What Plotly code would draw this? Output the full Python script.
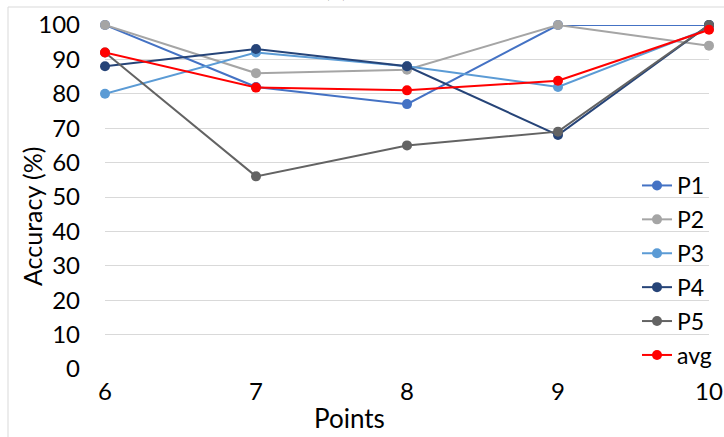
import plotly.graph_objects as go

# Number of points used and per-participant accuracy (%)
points = [6, 7, 8, 9, 10]
p1 = [100, 82, 77, 100, 100]
p2 = [100, 86, 87, 100, 94]
p3 = [80, 92, 88, 82, 99]
p4 = [88, 93, 88, 68, 100]
p5 = [92, 56, 65, 69, 100]
avg = [92, 81.8, 81, 83.8, 98.6]

series_names = ["P1", "P2", "P3", "P4", "P5", "avg"]
series_values = [p1, p2, p3, p4, p5, avg]
series_colors = ["#4472C4", "#A5A5A5", "#5B9BD5", "#264478", "#636363", "#FF0000"]

y_ticks = [0, 10, 20, 30, 40, 50, 60, 70, 80, 90, 100]

FONT = "Lato"
W, H = 724, 437
L, R, T, B = 105, 15, 25, 68
plot_w = W - L - R
plot_h = H - T - B

fig = go.Figure()
for i, (name, vals, col) in enumerate(zip(series_names, series_values, series_colors)):
    fig.add_trace(go.Scatter(
        x=points, y=vals, name=name, mode="lines+markers",
        line=dict(color=col, width=2),
        marker=dict(color=col, size=10),
        cliponaxis=False, legendgroup=f"g{i}",
    ))

# outer chart frame
fig.add_shape(type="rect", xref="paper", yref="paper",
              x0=(8 - L) / plot_w, x1=1.5,
              y0=-1, y1=1 + (T - 7) / plot_h,
              line=dict(color="#D9D9D9", width=1), layer="below")

fig.update_layout(
    width=W, height=H,
    margin=dict(l=L, r=R, t=T, b=B, autoexpand=False),
    paper_bgcolor="white", plot_bgcolor="white",
    font=dict(family=FONT, color="#000000"),
    showlegend=True,
    legend=dict(x=1 - (710 - 638) / plot_w, xanchor="left",
                y=1 - (164 - T) / plot_h, yanchor="top",
                font=dict(size=23, family=FONT), bgcolor="rgba(0,0,0,0)",
                tracegroupgap=1, itemwidth=30),
    xaxis=dict(range=[6, 10], tickvals=points, ticktext=[str(p) for p in points],
               showgrid=False, zeroline=False, showline=False, automargin=False,
               tickfont=dict(size=24), ticklabelstandoff=6),
    yaxis=dict(range=[0, 100], tickvals=y_ticks, showgrid=True, automargin=False,
               gridcolor="#D9D9D9", gridwidth=1, zeroline=False, showline=False,
               tickfont=dict(size=24), ticklabelstandoff=24),
    annotations=[
        dict(text="Accuracy (%)", xref="paper", yref="paper",
             x=(32 - L) / plot_w, y=1 - (216 - T) / plot_h,
             textangle=-90, showarrow=False, font=dict(size=25),
             xanchor="center", yanchor="middle"),
        dict(text="Points", xref="paper", yref="paper",
             x=(349 - L) / plot_w, y=1 - (418 - T) / plot_h,
             showarrow=False, font=dict(size=26),
             xanchor="center", yanchor="middle"),
        dict(text="(a)", xref="paper", yref="paper",
             x=(336 - L) / plot_w, y=1 + (T - 4) / plot_h,
             showarrow=False, font=dict(size=24),
             xanchor="center", yanchor="bottom"),
    ],
)

fig.write_html("out.html")
